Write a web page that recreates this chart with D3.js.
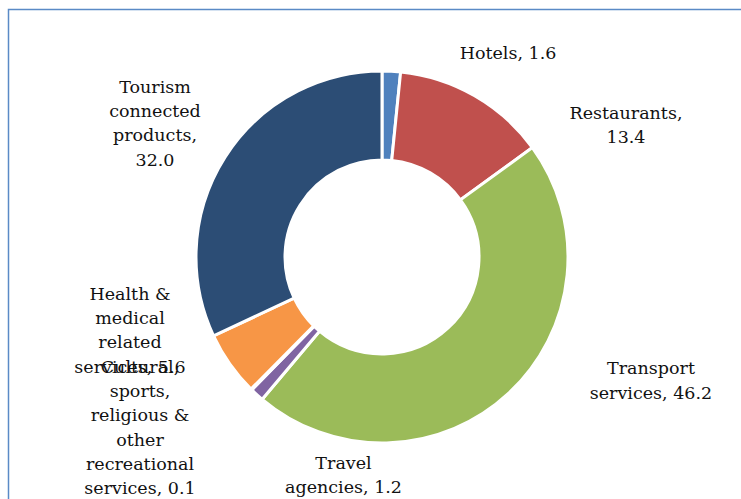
<!DOCTYPE html>
<html>
<head>
<meta charset="utf-8">
<script src="https://cdn.jsdelivr.net/npm/d3@7"></script>
<style>
html,body{margin:0;padding:0;background:#fff;overflow:hidden;}
svg{display:block;}
</style>
</head>
<body>
<svg id="chart" width="741" height="499"></svg>
<script>
// ---- data ----
const categories = ["Hotels", "Restaurants", "Transport services", "Travel agencies",
  "Cultural, sports, religious & other recreational services",
  "Health & medical related services", "Tourism connected products"];
const values = [1.6, 13.4, 46.2, 1.2, 0.1, 5.6, 32.0];
const valueLabels = ["1.6", "13.4", "46.2", "1.2", "0.1", "5.6", "32.0"];
const colors = ["#4F81BD", "#C0504D", "#9BBB59", "#8064A2", "#4BACC6", "#F79646", "#2C4D75"];

// ---- label layout (wrapped lines and block offsets from pie centre) ----
const labelLines = [
  ["Hotels, 1.6"],
  ["Restaurants,", "13.4"],
  ["Transport", "services, 46.2"],
  ["Travel", "agencies, 1.2"],
  ["Cultural,", "sports,", "religious &", "other", "recreational", "services, 0.1"],
  ["Health &", "medical", "related", "services, 5.6"],
  ["Tourism", "connected", "products,", "32.0"]
];
const labelOffsets = [[126, -204], [244, -132], [269, 123.5], [-38.5, 218], [-242, 170.5], [-252, 73], [-227, -134]];

const svg = d3.select("#chart");
const W = 741, H = 499;
const cx = 382, cy = 257, rOuter = 186, rInner = 97;

// frame
svg.append("rect").attr("x", 8.5).attr("y", 9.5).attr("width", 900).attr("height", 700)
  .attr("fill", "none").attr("stroke", "#5A8AC6").attr("stroke-width", 1.5);

const data = categories.map((c, i) => ({name: c, value: values[i], i}));
const pie = d3.pie().value(d => d.value).sort(null).startAngle(0).endAngle(2 * Math.PI);
const arc = d3.arc().innerRadius(rInner).outerRadius(rOuter);

const g = svg.append("g").attr("transform", `translate(${cx},${cy})`);
g.selectAll("path").data(pie(data)).join("path")
  .attr("d", arc)
  .attr("fill", d => colors[d.data.i])
  .attr("stroke", "#fff")
  .attr("stroke-width", 3)
  .attr("stroke-linejoin", "miter");

const lineH = 24.3;
const lg = g.append("g").attr("font-family", "'DejaVu Serif', serif").attr("font-size", "17.5px").attr("fill", "#111");
data.forEach((d, i) => {
  const lines = labelLines[i];
  const [ox, oy] = labelOffsets[i];
  const t = lg.append("text").attr("text-anchor", "middle");
  lines.forEach((ln, k) => {
    t.append("tspan").attr("x", ox)
      .attr("y", oy + (k - (lines.length - 1) / 2) * lineH)
      .attr("dy", "0.35em")
      .text(ln);
  });
});
</script>
</body>
</html>
